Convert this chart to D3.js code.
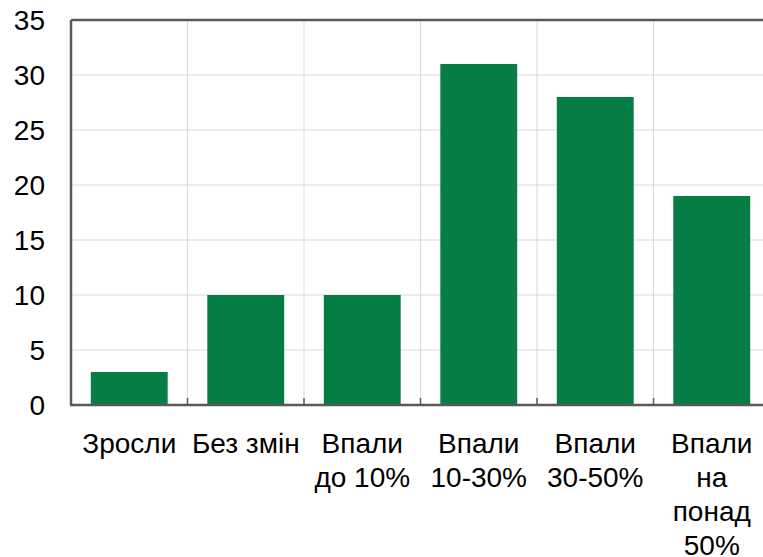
<!DOCTYPE html>
<html>
<head>
<meta charset="utf-8">
<script src="https://cdn.jsdelivr.net/npm/d3@7"></script>
<style>
  body { margin: 0; background: #fff; }
  text { font-family: "Liberation Sans", Arial, sans-serif; fill: #000; }
</style>
</head>
<body>
<div id="container"></div>
<script>
/* CONSTANTS AND GLOBALS */
const width = 763;
const height = 557;
const plotLeft = 71, plotRight = 770, plotTop = 20, plotBottom = 405;

/* DATA */
const categories = ["Зросли", "Без змін", "Впали до 10%", "Впали 10-30%", "Впали 30-50%", "Впали на понад 50%"];
const values = [3, 10, 10, 31, 28, 19];
const labelLines = [["Зросли"], ["Без змін"], ["Впали", "до 10%"], ["Впали", "10-30%"], ["Впали", "30-50%"], ["Впали", "на", "понад", "50%"]];
const yTicks = [0, 5, 10, 15, 20, 25, 30, 35];

const data = categories.map((c, i) => ({ cat: c, value: values[i], lines: labelLines[i] }));

const svg = d3.select("#container")
  .append("svg")
  .attr("width", width)
  .attr("height", height);

/* SCALES */
const xScale = d3.scaleBand()
  .domain(categories)
  .range([plotLeft, plotRight])
  .paddingInner(0.34)
  .paddingOuter(0.17);

const yScale = d3.scaleLinear()
  .domain([0, 35])
  .range([plotBottom, plotTop]);

const step = xScale.step();

// horizontal grid
svg.selectAll(".hgrid")
  .data(yTicks.filter(d => d > 0 && d < 35))
  .join("line")
  .attr("class", "hgrid")
  .attr("x1", plotLeft).attr("x2", plotRight)
  .attr("y1", d => yScale(d)).attr("y2", d => yScale(d))
  .attr("stroke", "#d9d9d9")
  .attr("stroke-width", 1);

// vertical grid at category boundaries
const bounds = d3.range(1, categories.length + 1).map(i => plotLeft + i * step);
svg.selectAll(".vgrid")
  .data(bounds)
  .join("line")
  .attr("class", "vgrid")
  .attr("x1", d => d).attr("x2", d => d)
  .attr("y1", plotTop).attr("y2", plotBottom)
  .attr("stroke", "#d9d9d9")
  .attr("stroke-width", 1);

// bars
svg.selectAll(".bar")
  .data(data)
  .join("rect")
  .attr("class", "bar")
  .attr("x", d => xScale(d.cat))
  .attr("y", d => yScale(d.value))
  .attr("width", xScale.bandwidth())
  .attr("height", d => plotBottom - yScale(d.value))
  .attr("fill", "#077d46");

// boundary ticks on the x axis
svg.selectAll(".xtick")
  .data(bounds)
  .join("line")
  .attr("class", "xtick")
  .attr("x1", d => d).attr("x2", d => d)
  .attr("y1", plotBottom - 7).attr("y2", plotBottom)
  .attr("stroke", "#595959")
  .attr("stroke-width", 1.5);

// frame: top border, left axis, bottom axis
svg.append("line")
  .attr("x1", plotLeft).attr("x2", plotRight)
  .attr("y1", plotTop).attr("y2", plotTop)
  .attr("stroke", "#595959").attr("stroke-width", 2.5);
svg.append("line")
  .attr("x1", plotLeft).attr("x2", plotLeft)
  .attr("y1", plotTop).attr("y2", plotBottom)
  .attr("stroke", "#595959").attr("stroke-width", 2.5);
svg.append("line")
  .attr("x1", plotLeft - 1).attr("x2", plotRight)
  .attr("y1", plotBottom).attr("y2", plotBottom)
  .attr("stroke", "#595959").attr("stroke-width", 2.5);

// y labels
svg.selectAll(".ylab")
  .data(yTicks)
  .join("text")
  .attr("class", "ylab")
  .attr("x", 45)
  .attr("y", d => yScale(d))
  .attr("dy", "0.36em")
  .attr("text-anchor", "end")
  .attr("font-size", 28)
  .text(d => d);

// x labels
const xl = svg.selectAll(".xlab")
  .data(data)
  .join("text")
  .attr("class", "xlab")
  .attr("text-anchor", "middle")
  .attr("font-size", 28)
  .attr("transform", d => `translate(${xScale(d.cat) + xScale.bandwidth() / 2}, 453)`);

xl.selectAll("tspan")
  .data(d => d.lines)
  .join("tspan")
  .attr("x", 0)
  .attr("y", (d, i) => i * 34)
  .text(d => d);
</script>
</body>
</html>
